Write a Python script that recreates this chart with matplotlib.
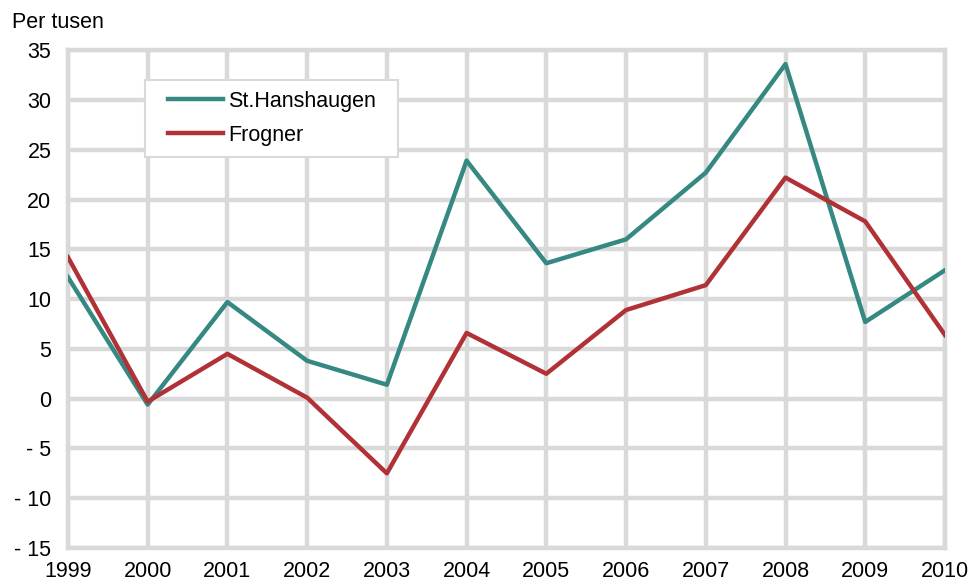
import matplotlib.pyplot as plt
from matplotlib.patches import Rectangle
from matplotlib.ticker import FuncFormatter, MultipleLocator

years = [1999, 2000, 2001, 2002, 2003, 2004, 2005, 2006, 2007, 2008, 2009, 2010]
st_hanshaugen = [12.2, -0.6, 9.7, 3.8, 1.4, 23.9, 13.6, 16.0, 22.7, 33.6, 7.7, 12.9]
frogner = [14.2, -0.3, 4.5, 0.1, -7.5, 6.6, 2.5, 8.9, 11.4, 22.2, 17.8, 6.4]

plt.rcParams['font.family'] = ['Liberation Sans', 'DejaVu Sans']
grid_col = '#d9d9d9'
fs = 15.5

fig = plt.figure(figsize=(9.68, 5.83), dpi=100)
ax = fig.add_axes([0.0702, 0.060, 0.906, 0.854])

ax.plot(years, st_hanshaugen, color='#368883', lw=3.2, label='St.Hanshaugen', zorder=3)
ax.plot(years, frogner, color='#b03236', lw=3.2, label='Frogner', zorder=3)

ax.set_xlim(1999, 2010)
ax.set_ylim(-15, 35)
ax.xaxis.set_major_locator(MultipleLocator(1))
ax.yaxis.set_major_locator(MultipleLocator(5))


def fmt(v, pos):
    v = int(round(v))
    return f'- {abs(v)}' if v < 0 else str(v)


ax.yaxis.set_major_formatter(FuncFormatter(fmt))
ax.tick_params(length=0, labelsize=fs)
ax.tick_params(axis='y', pad=12)
ax.tick_params(axis='x', pad=9)
ax.grid(True, color=grid_col, lw=3.2)
ax.set_axisbelow(True)
for s in ax.spines.values():
    s.set_color(grid_col)
    s.set_linewidth(3.2)

# legend box drawn separately so the padding matches
box = Rectangle((145 / 968, 1 - 157 / 583), 253 / 968, 77 / 583,
                transform=fig.transFigure, facecolor='white',
                edgecolor=grid_col, lw=1.5, zorder=4)
ax.add_patch(box)
box.set_clip_on(False)

leg = ax.legend(loc='upper left', bbox_to_anchor=(168 / 968, 1 - 91 / 583),
                bbox_transform=fig.transFigure, fontsize=fs, frameon=False,
                handlelength=2.56, handletextpad=0.25, borderpad=0,
                labelspacing=0.6, borderaxespad=0)
leg.set_zorder(5)

fig.text(12 / 968, 1 - 22 / 583, 'Per tusen', fontsize=fs, va='center', ha='left')

fig.savefig('out.png', dpi=100)
